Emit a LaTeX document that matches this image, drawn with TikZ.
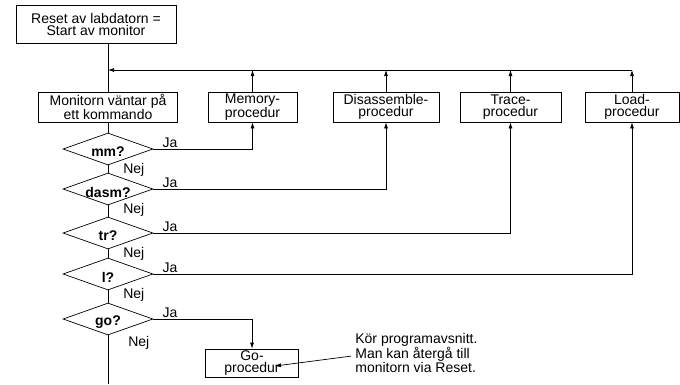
\documentclass[tikz,border=0pt]{standalone}
\usepackage{fontspec}
\setmainfont{Liberation Sans}
\usetikzlibrary{shapes.geometric,arrows.meta}

\begin{document}
\begin{tikzpicture}[x=1pt,y=-1pt,line width=0.7pt,
  txt/.style={font=\fontsize{14}{12}\selectfont},
  box/.style={draw,rectangle,align=center,inner sep=0pt,minimum height=30pt,txt},
  test/.style={draw,diamond,inner sep=0pt,minimum width=90pt,minimum height=32pt},
  qtext/.style={font=\fontsize{14}{14}\selectfont\bfseries,yshift=-3pt},
  lbl/.style={txt,inner sep=0pt},
  arr/.style={-{Latex[length=6pt,width=4pt]}},
]
\useasboundingbox (0,0) rectangle (680,384);

% main boxes
\node[box,minimum width=160pt,minimum height=38pt] (reset) at (96,24) {Reset av labdatorn =\\Start av monitor};
\node[box,minimum width=139pt] (mon) at (108,107) {Monitorn väntar på\\ett kommando};
\node[box,minimum width=89pt] (mem) at (252.5,107) {Memory-\\procedur};
\node[box,minimum width=106pt] (dis) at (386,107) {Disassemble-\\procedur};
\node[box,minimum width=101pt] (tra) at (510.5,107) {Trace-\\procedur};
\node[box,minimum width=94pt] (load) at (632,107) {Load-\\procedur};
\node[box,minimum width=93pt,minimum height=28pt] (gop) at (252,363) {Go-\\procedur};
\coordinate (ret) at (108,70);
\coordinate (bottom) at (108,384);

% return path to the monitor
\draw (reset.south -| mon.north) -- (mon.north);
\draw[arr] (load.north) -- (load.north |- ret);
\draw[arr] (load.north |- ret) -- (ret);
\foreach \b in {mem,dis,tra} \draw[arr] (\b.north) -- (\b.north |- ret);

% command tests
\node[test,label={[qtext]center:mm?}] (qmm) at (108,149) {};
\node[test,label={[qtext]center:dasm?}] (qdasm) at (108,189) {};
\node[test,label={[qtext]center:tr?}] (qtr) at (108,233) {};
\node[test,label={[qtext]center:l?}] (ql) at (108,274) {};
\node[test,label={[qtext]center:go?}] (qgo) at (108,319) {};

\draw (mon.south) -- (qmm.north);
\draw (qmm.south) -- (qdasm.north);
\draw (qdasm.south) -- (qtr.north);
\draw (qtr.south) -- (ql.north);
\draw (ql.south) -- (qgo.north);
\draw (qgo.south) -- (bottom);

% Ja branches
\draw[arr] (qmm.east) -| (mem.south);
\draw[arr] (qdasm.east) -| (dis.south);
\draw[arr] (qtr.east) -| (tra.south);
\draw[arr] (ql.east) -| (load.south);
\draw[arr] (qgo.east) -| (gop.north);

\foreach \q in {qmm,qdasm,qtr,ql,qgo}
  \node[lbl,anchor=south west] (ja\q) at ([xshift=9pt,yshift=1pt]\q.east) {Ja};
\foreach \q in {qmm,qdasm,qtr,ql}
  \node[lbl,anchor=west] (nej\q) at ([xshift=15pt,yshift=-5pt]\q.south) {Nej};
\node[lbl,anchor=west] (nejqgo) at ([xshift=20pt,yshift=-8pt]qgo.south) {Nej};

% note on the Go procedure
\node[lbl,align=left,anchor=north west] (note) at (355,333) {Kör programavsnitt.\\Man kan återgå till\\monitorn via Reset.};
\coordinate (tip) at (275,366);
\draw[arr] ([xshift=-4pt,yshift=-3pt]note.west) -- (tip);
\end{tikzpicture}
\end{document}
